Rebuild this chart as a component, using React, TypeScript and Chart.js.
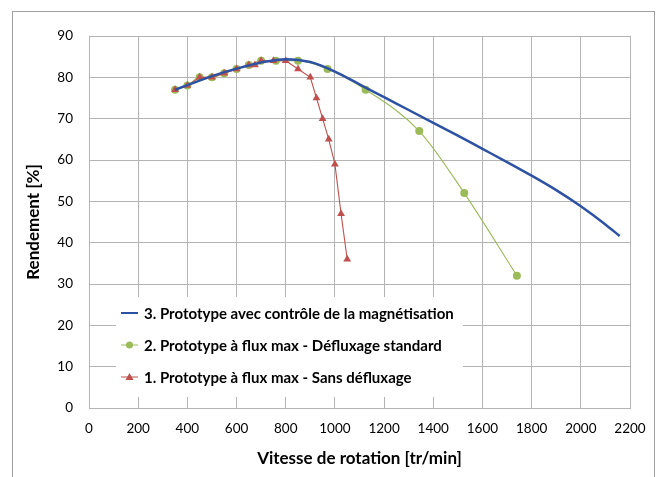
import React, { useEffect, useRef } from "react";
import { Chart, registerables } from "chart.js";

Chart.register(...registerables);

// Series 1: Prototype à flux max - Sans défluxage (red triangles)
const s1Speed = [350, 400, 450, 500, 550, 600, 650, 675, 700, 750, 800, 850, 900, 925, 950, 975, 1000, 1025, 1050];
const s1Eff = [77, 78, 80, 80, 81, 82, 83, 83, 84, 84, 84, 82, 80, 75, 70, 65, 59, 47, 36];

// Series 2: Prototype à flux max - Défluxage standard (green circles)
const s2Speed = [350, 400, 450, 500, 550, 600, 650, 700, 760, 850, 970, 1125, 1343, 1526, 1740];
const s2Eff = [77, 78, 80, 80, 81, 82, 83, 84, 84, 84, 82, 77, 67, 52, 32];

// Series 3: Prototype avec contrôle de la magnétisation (blue smooth line)
const s3Speed = [350, 400, 500, 600, 700, 800, 900, 1000, 1100, 1200, 1300, 1400, 1500, 1600, 1700, 1800, 1900, 2000, 2100, 2158];
const s3Eff = [77, 78.1, 80.3, 82.1, 83.6, 84.4, 83.7, 81.4, 78.3, 75.2, 72.1, 69, 65.9, 62.7, 59.5, 56.2, 52.7, 48.8, 44.4, 41.6];

const labels = [
  "3. Prototype avec contrôle de la magnétisation",
  "2. Prototype à flux max - Défluxage standard",
  "1. Prototype à flux max - Sans défluxage",
];

const xTitle = "Vitesse de rotation [tr/min]";
const yTitle = "Rendement [%]";

const BLUE = "#2E52A3";
const GREEN = "#9BBB59";
const RED = "#C0504D";
const GRID = "#b4b4b4";
const FONT = "Lato";

const toXY = (xs: number[], ys: number[]) => xs.map((x, i) => ({ x, y: ys[i] }));

const legendPlugin = {
  id: "insideLegend",
  afterDatasetsDraw(chart: any) {
    const ctx = chart.ctx;
    ctx.save();
    ctx.fillStyle = "#ffffff";
    ctx.fillRect(116, 297, 347, 100);
    const rows = [
      { label: labels[0], color: BLUE, lw: 2, marker: "none" },
      { label: labels[1], color: GREEN, lw: 1, marker: "circle" },
      { label: labels[2], color: RED, lw: 1, marker: "triangle" },
    ];
    const ys = [313, 345, 377];
    rows.forEach((r, i) => {
      const y = ys[i];
      ctx.strokeStyle = r.color;
      ctx.lineWidth = r.lw;
      ctx.beginPath();
      ctx.moveTo(121, y);
      ctx.lineTo(138, y);
      ctx.stroke();
      ctx.fillStyle = r.color;
      if (r.marker === "circle") {
        ctx.beginPath();
        ctx.arc(129.5, y, 3.5, 0, Math.PI * 2);
        ctx.fill();
      } else if (r.marker === "triangle") {
        ctx.beginPath();
        ctx.moveTo(129.5, y - 4);
        ctx.lineTo(133.5, y + 3);
        ctx.lineTo(125.5, y + 3);
        ctx.closePath();
        ctx.fill();
      }
      ctx.fillStyle = "#000000";
      ctx.font = `bold 15px ${FONT}`;
      ctx.textBaseline = "middle";
      ctx.textAlign = "left";
      ctx.fillText(r.label, 144, y + 1);
    });
    ctx.restore();
  },
};

export default function App() {
  const ref = useRef<HTMLCanvasElement>(null);
  useEffect(() => {
    if (!ref.current) return;
    const chart = new Chart(ref.current, {
      type: "line",
      data: {
        datasets: [
          {
            label: labels[0],
            data: toXY(s3Speed, s3Eff),
            borderColor: BLUE,
            backgroundColor: BLUE,
            borderWidth: 2.5,
            pointRadius: 0,
            cubicInterpolationMode: "monotone",
          },
          {
            label: labels[2],
            data: toXY(s1Speed, s1Eff),
            borderColor: RED,
            backgroundColor: RED,
            borderWidth: 1.1,
            pointStyle: "triangle",
            pointRadius: 4.5,
            pointBorderWidth: 0,
            tension: 0,
          },
          {
            label: labels[1],
            data: toXY(s2Speed, s2Eff),
            borderColor: GREEN,
            backgroundColor: GREEN,
            borderWidth: 1.1,
            pointStyle: "circle",
            pointRadius: 4,
            pointBorderWidth: 0,
            cubicInterpolationMode: "monotone",
          },
        ],
      },
      options: {
        responsive: false,
        animation: false,
        layout: { padding: { left: 12, right: 32, top: 36, bottom: 0 } },
        plugins: {
          legend: { display: false },
          tooltip: { enabled: false },
        },
        scales: {
          x: {
            type: "linear",
            min: 0,
            max: 2200,
            ticks: { stepSize: 200, padding: 13, color: "#000", font: { family: FONT, size: 13.5 }, callback: (v: any) => String(v) },
            grid: { color: GRID, drawTicks: false },
            border: { color: GRID },
            title: { display: true, text: xTitle, color: "#000", font: { family: FONT, size: 17, weight: "bold" }, padding: { top: 0, bottom: 8 } },
            afterFit: (s: any) => { s.height = 69; },
          },
          y: {
            type: "linear",
            min: 0,
            max: 90,
            ticks: { stepSize: 10, padding: 16, color: "#000", font: { family: FONT, size: 13.5 }, callback: (v: any) => String(v) },
            grid: { color: GRID, drawTicks: false },
            border: { color: GRID },
            title: { display: true, text: yTitle, color: "#000", font: { family: FONT, size: 17, weight: "bold" }, padding: { top: 11, bottom: 0 } },
            afterFit: (s: any) => { s.width = 77; },
          },
        },
      },
      plugins: [legendPlugin],
    } as any);
    return () => chart.destroy();
  }, []);
  return (
    <div style={{ position: "fixed", left: 0, top: 0, width: 662, height: 477, overflow: "hidden", background: "#fff" }}>
      <div style={{ position: "absolute", left: 12, top: 11, width: 641, height: 500, border: "1px solid #a0a0a0" }} />
      <canvas ref={ref} width={662} height={477} style={{ position: "absolute", left: 0, top: 0, width: 662, height: 477 }} />
    </div>
  );
}
